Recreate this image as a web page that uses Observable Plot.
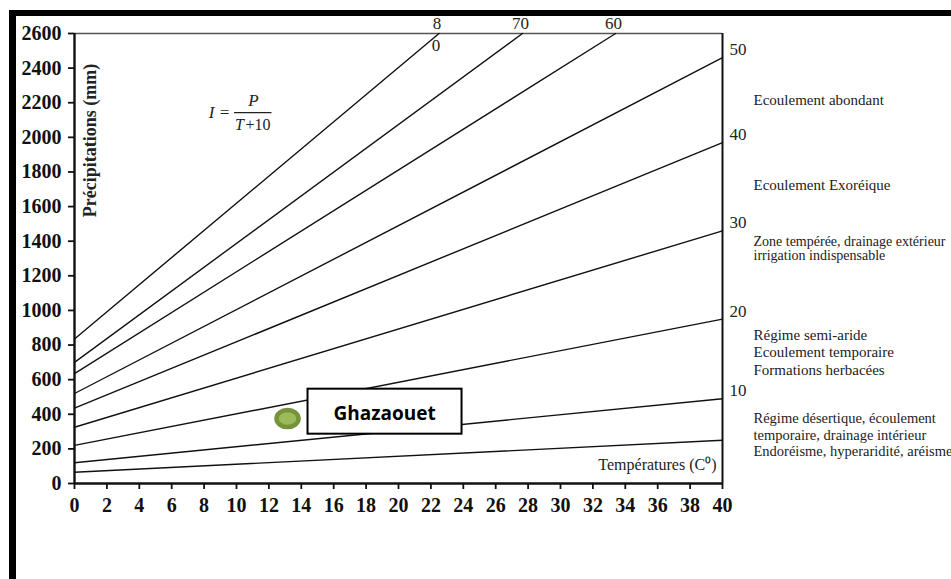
<!DOCTYPE html>
<html>
<head>
<meta charset="utf-8">
<script src="https://cdn.jsdelivr.net/npm/d3@7"></script>
<script src="https://cdn.jsdelivr.net/npm/@observablehq/plot@0.6"></script>
<style>
html, body { margin: 0; padding: 0; background: #fff; }
#wrap { position: relative; width: 951px; height: 579px; overflow: hidden; }
#border { position: absolute; left: 9px; top: 10px; right: -20px; bottom: -20px;
  border-top: 6px solid #000; border-left: 7px solid #000; }
#chart { position: absolute; left: 0; top: 0; }
#chart svg [aria-label^="x-axis"] text,
#chart svg [aria-label^="y-axis"] text {
  font-family: "Liberation Serif", serif; font-weight: bold; font-size: 20px; fill: #111;
}
#chart svg [aria-label^="x-axis"] line, #chart svg [aria-label^="y-axis"] line,
#chart svg [aria-label^="x-axis"] path, #chart svg [aria-label^="y-axis"] path {
  stroke: #111; stroke-width: 1.8;
}
</style>
</head>
<body>
<div id="wrap"><div id="border"></div><div id="chart"></div></div>
<script>
// ---- data ----
const xTicks = [0, 2, 4, 6, 8, 10, 12, 14, 16, 18, 20, 22, 24, 26, 28, 30, 32, 34, 36, 38, 40];
const yTicks = [0, 200, 400, 600, 800, 1000, 1200, 1400, 1600, 1800, 2000, 2200, 2400, 2600];

// De Martonne index lines: value at T = 0 and end point (right axis or top edge)
const indexValues = [5, 10, 20, 30, 40, 50, 60, 70, 80];
const startP      = [65, 120, 220, 325, 435, 520, 635, 700, 835];
const endT        = [40, 40, 40, 40, 40, 40, 33.4, 27.65, 22.5];
const endP        = [250, 490, 950, 1460, 1970, 2460, 2600, 2600, 2600];

// labels of the index lines
const rightLabelIndex = [10, 20, 30, 40, 50];
const rightLabels     = ["10", "20", "30", "40", "50"];
const topLabelIndex   = [80, 70, 60];
const topLabelsAbove  = ["8", "70", "60"];
const topLabelsBelow  = ["0", "", ""];

// zone descriptions, placed under the index label named in zoneUnder
const zoneTexts = [
  "Ecoulement abondant",
  "Ecoulement Exoréique",
  "Zone tempérée, drainage extérieur\nirrigation indispensable",
  "Régime semi-aride\nEcoulement temporaire\nFormations herbacées",
  "Régime désertique, écoulement\ntemporaire, drainage intérieur\nEndoréisme, hyperaridité, aréisme"
];
const zoneUnder = [50, 40, 30, 20, 10];

// station
const stationNames = ["Ghazaouet"];
const stationT = [13.15];
const stationP = [375];

// ---- build tables ----
const lineRows = indexValues.flatMap((I, i) => [
  {I, T: 0, P: startP[i]},
  {I, T: endT[i], P: endP[i]}
]);
const endOf = I => { const i = indexValues.indexOf(I); return {T: endT[i], P: endP[i]}; };
const rightRows = rightLabelIndex.map((I, i) => ({...endOf(I), label: rightLabels[i]}));
const topRows = topLabelIndex.map((I, i) => ({...endOf(I), above: topLabelsAbove[i], below: topLabelsBelow[i]}));
const stationRows = stationNames.map((name, i) => ({name, T: stationT[i], P: stationP[i]}));

// per-zone text styling (offsets in px from the index label)
const zoneStyle = [
  {fontSize: 15, lineHeight: 1.0, dy: 37},
  {fontSize: 15, lineHeight: 1.0, dy: 37},
  {fontSize: 14, lineHeight: 0.95, dy: 6},
  {fontSize: 15, lineHeight: 1.17, dy: 8},
  {fontSize: 14.5, lineHeight: 1.13, dy: 13}
];
const zoneMarks = zoneTexts.map((t, i) => Plot.text([{...endOf(zoneUnder[i]), t}], {
  x: "T", y: "P", text: "t", dx: 31, dy: zoneStyle[i].dy,
  textAnchor: "start", lineAnchor: "top",
  fontSize: zoneStyle[i].fontSize, lineHeight: zoneStyle[i].lineHeight, fill: "#222"
}));

const ellipseSymbol = {
  draw(ctx, size) {
    const r = Math.sqrt(size / Math.PI), rx = r * 1.3, ry = r, k = 0.5523;
    ctx.moveTo(rx, 0);
    ctx.bezierCurveTo(rx, k * ry, k * rx, ry, 0, ry);
    ctx.bezierCurveTo(-k * rx, ry, -rx, k * ry, -rx, 0);
    ctx.bezierCurveTo(-rx, -k * ry, -k * rx, -ry, 0, -ry);
    ctx.bezierCurveTo(k * rx, -ry, rx, -k * ry, rx, 0);
    ctx.closePath();
  }
};

const anno = (s, opts) => Plot.text([s], {frameAnchor: "top-left", text: d => d,
  textAnchor: "middle", lineAnchor: "middle", fill: "#222", ...opts});

const chart = Plot.plot({
  width: 951,
  height: 579,
  marginLeft: 74,
  marginRight: 229,
  marginTop: 33,
  marginBottom: 96,
  style: {fontFamily: "'Liberation Serif', serif", background: "transparent", color: "#111", overflow: "visible"},
  x: {domain: [0, 40], ticks: xTicks, tickSize: 6, tickPadding: 8, tickFormat: d => String(d), label: null},
  y: {domain: [0, 2600], ticks: yTicks, tickSize: 6, tickPadding: 7, tickFormat: d => String(d), label: null},
  marks: [
    Plot.ruleY([2600], {stroke: "#555", strokeWidth: 1.6}),
    Plot.ruleX([40], {stroke: "#111", strokeWidth: 2}),
    Plot.ruleX([0], {stroke: "#111", strokeWidth: 2.4}),
    Plot.ruleY([0], {stroke: "#111", strokeWidth: 2.4}),
    Plot.line(lineRows, {x: "T", y: "P", z: "I", stroke: "#111", strokeWidth: 1.4}),
    Plot.text(rightRows, {x: "T", y: "P", text: "label", dx: 7, dy: -8, textAnchor: "start", fontSize: 17, fill: "#222"}),
    Plot.text(topRows, {x: "T", y: "P", text: "above", dx: -2, dy: -10, fontSize: 17, fill: "#222"}),
    Plot.text(topRows, {x: "T", y: "P", text: "below", dx: -3, dy: 12, fontSize: 17, fill: "#222"}),
    ...zoneMarks,
    Plot.text(["Températures (C⁰)"], {frameAnchor: "bottom-right", text: d => d, dx: -6, dy: -19,
      textAnchor: "end", lineAnchor: "middle", fontSize: 16, fill: "#222"}),
    anno("Précipitations (mm)", {dx: 16, dy: 107, rotate: -90, fontSize: 18, fontWeight: "bold"}),
    anno("I =", {dx: 145, dy: 79, fontSize: 17, fontStyle: "italic"}),
    anno("P", {dx: 179, dy: 67, fontSize: 17, fontStyle: "italic"}),
    anno("T", {dx: 165, dy: 91, fontSize: 16, fontStyle: "italic"}),
    anno("+10", {dx: 171, dy: 91, fontSize: 16, textAnchor: "start"}),
    Plot.dot(stationRows, {x: "T", y: "P", r: 8.5, symbol: ellipseSymbol, fill: "#9bbb59", stroke: "#76923c", strokeWidth: 4.5}),
    Plot.text(stationRows, {x: "T", y: "P", text: "name", dx: 97, dy: -5,
      fontFamily: "'Open Sans', sans-serif", fontWeight: 700, fontSize: 19, fill: "#000"})
  ]
});
document.getElementById("chart").append(chart);

// ---- decorations derived from rendered text: label box and fraction bar ----
const ns = "http://www.w3.org/2000/svg";
const svgRect = chart.getBoundingClientRect();
const texts = [...chart.querySelectorAll("text")];
const byText = s => texts.find(t => t.textContent === s);

const lab = byText("Ghazaouet");
if (lab) {
  const r = lab.getBoundingClientRect();
  const cx = (r.left + r.right) / 2 - svgRect.left, cy = (r.top + r.bottom) / 2 - svgRect.top;
  const box = document.createElementNS(ns, "rect");
  box.setAttribute("x", cx - 77); box.setAttribute("y", cy - 24);
  box.setAttribute("width", 154); box.setAttribute("height", 45);
  box.setAttribute("fill", "#fff"); box.setAttribute("stroke", "#000"); box.setAttribute("stroke-width", 2);
  const g = lab.closest("g");
  g.parentNode.insertBefore(box, g);
}
const denT = byText("T"), denN = byText("+10");
if (denT && denN) {
  const a = denT.getBoundingClientRect(), b = denN.getBoundingClientRect();
  const bar = document.createElementNS(ns, "line");
  const y = Math.min(a.top, b.top) - svgRect.top - 3;
  bar.setAttribute("x1", a.left - svgRect.left - 1); bar.setAttribute("x2", b.right - svgRect.left + 1);
  bar.setAttribute("y1", y); bar.setAttribute("y2", y);
  bar.setAttribute("stroke", "#222"); bar.setAttribute("stroke-width", 1.2);
  chart.appendChild(bar);
}
</script>
</body>
</html>
